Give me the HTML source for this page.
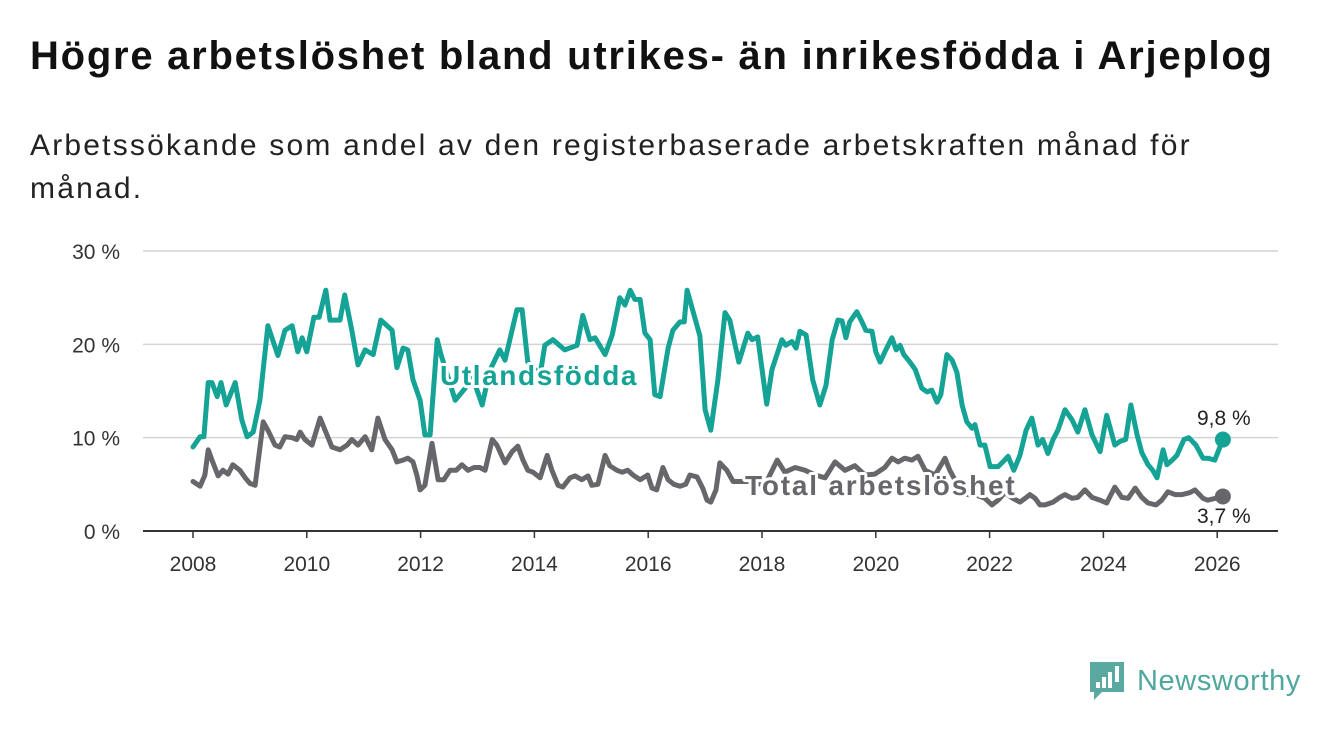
<!DOCTYPE html>
<html><head><meta charset="utf-8"><style>
body{margin:0;width:1340px;height:734px;background:#fff;font-family:"Liberation Sans",sans-serif;overflow:hidden;position:relative}
h1{position:absolute;left:30px;top:34px;margin:0;font-size:40px;letter-spacing:1.75px;font-weight:bold;color:#111;white-space:nowrap}
p.sub{position:absolute;left:30px;top:124px;margin:0;font-size:30px;letter-spacing:2.2px;line-height:43px;color:#222;width:1240px}
svg{position:absolute;left:0;top:0}
</style></head><body>
<h1>Högre arbetslöshet bland utrikes- än inrikesfödda i Arjeplog</h1>
<p class="sub">Arbetssökande som andel av den registerbaserade arbetskraften månad för<br>månad.</p>
<svg id="chart" width="1340" height="734"></svg>
<script>
const yTicks=[0,10,20,30];
const yTickLabels=["0 %","10 %","20 %","30 %"];
const xTicks=[2008,2010,2012,2014,2016,2018,2020,2022,2024,2026];
const utlMonths=[0,1.5,2.3,3.2,4,5.1,5.9,7,8.9,10.3,11.4,12.7,14.1,15.8,17.9,19.4,20.9,22.1,23,24,25.5,26.6,28,28.9,31,32,33.5,34.8,36.3,38,39.6,42,43,44.3,45.3,46.4,47.9,48.9,50,51.5,52.3,55.3,57.4,58.8,61,62.6,64.7,65.8,68.3,69.4,70.6,73.2,74.2,75.9,78.4,81,82.2,83.7,84.8,86.9,88.4,90,91.1,92.2,93.2,94.3,95.3,96.4,97.4,98.5,100.2,101.2,102.7,103.6,104.2,106.9,108,109.2,110.7,112.2,113.2,115.1,117,117.9,119.1,121,122.1,124.2,125,126.3,127.2,128,129.3,130.7,132.2,133.5,134.8,136,136.9,137.7,138.5,140,141.1,141.9,143.2,144,144.9,146.1,147.4,148.3,149.1,149.9,151.2,152.3,153.7,154.8,155.8,156.9,157.7,159,160.1,161.1,162.2,163.2,164.3,164.9,166,167,168.1,169.8,170.8,171.9,173.1,174.4,175.7,176.9,178.2,179.2,180.3,181.4,182.4,183.9,185.4,186.6,188.1,189.6,191.3,192.7,194.4,195.5,196.7,197.8,199.1,200.1,201.4,202.4,203.3,204.6,205.4,206.5,207.5,209,210,211.5,213,214,215.5,217.2];
const utlValues=[9.0,10.1,10.1,15.9,15.9,14.4,15.9,13.5,15.9,11.9,10.1,10.6,14.0,22.0,18.8,21.5,22.0,19.2,20.7,19.2,22.9,22.9,25.8,22.6,22.6,25.3,21.5,17.8,19.4,18.9,22.6,21.5,17.5,19.6,19.4,16.2,14.0,10.3,10.3,20.5,18.9,14.0,15.3,16.7,13.5,17.2,19.4,18.3,23.7,23.7,18.1,16.7,19.9,20.5,19.4,19.9,23.1,20.5,20.7,18.9,21.0,25.0,24.2,25.8,24.8,24.8,21.2,20.5,14.6,14.4,19.6,21.5,22.4,22.4,25.8,20.9,13.0,10.8,16.2,23.4,22.6,18.1,21.2,20.5,20.8,13.6,17.3,20.5,19.9,20.3,19.6,21.4,21.0,16.2,13.5,15.6,20.5,22.6,22.5,20.7,22.4,23.5,22.4,21.5,21.4,19.2,18.1,19.4,20.7,19.4,19.9,18.9,18.1,17.3,15.3,14.9,15.1,13.8,14.6,18.9,18.3,17.0,13.5,11.7,11.0,11.4,9.2,9.2,6.9,6.9,7.4,8.0,6.5,8.1,10.8,12.1,9.2,9.8,8.3,9.8,10.8,13.0,11.9,10.6,13.0,10.3,8.5,12.4,9.2,9.6,9.8,13.5,10.3,8.4,7.1,6.5,5.7,8.7,7.1,7.6,8.1,9.8,10.0,9.2,7.8,7.8,7.6,9.8];
const totMonths=[0,1.5,2.5,3.2,4,5.3,6.3,7.4,8.4,9.9,11,12,13.1,14.8,15.8,17.3,18.3,19.4,20.9,21.9,22.6,23.6,25.1,26.8,28,29.3,31,32.5,33.5,34.8,36.3,37.7,39,40.5,42,43,44.3,45.3,46.4,47.2,47.9,48.9,50.4,51.7,52.9,54.2,55.5,56.7,58,59.3,60.5,61.6,63.1,64.1,65.8,67.3,68.5,69.6,70.6,71.7,73.2,74.7,75.7,77,78,79.5,80.6,82,83.3,84.1,85.4,86.9,87.9,89.4,90.5,91.7,92.8,94.3,95.9,96.8,97.8,99.1,100.2,101.4,102.7,103.9,104.8,106.3,107.5,108.4,109.2,110.3,111.1,112.6,113.9,114.9,117.5,120.6,123.2,124.8,127,129.1,131.2,133.3,135.4,137.5,139.6,141.7,143.8,145.9,147.4,148.7,150.1,151.6,152.9,154.4,156.5,158.6,159.6,161.3,163.4,164.9,167,168.5,169.8,171.2,172.9,174.4,175.5,176.5,177.6,178.6,179.7,181.4,182.8,183.9,185.4,186.6,188.1,189.6,191.3,192.7,194.4,195.9,197.2,198.7,200.1,201.4,203.1,204.3,205.6,207.1,208.6,210.2,211.3,213,214,217.2];
const totValues=[5.3,4.8,6.0,8.7,7.6,5.9,6.5,6.1,7.1,6.5,5.7,5.1,4.9,11.7,10.8,9.2,9.0,10.1,10.0,9.8,10.6,9.8,9.2,12.1,10.6,9.0,8.7,9.2,9.8,9.2,10.1,8.7,12.1,9.8,8.7,7.4,7.6,7.8,7.4,6.0,4.4,4.9,9.4,5.5,5.5,6.5,6.5,7.1,6.5,6.8,6.8,6.5,9.8,9.2,7.3,8.5,9.1,7.6,6.5,6.3,5.7,8.1,6.5,4.9,4.7,5.7,5.9,5.5,5.9,4.9,5.0,8.1,7.0,6.5,6.3,6.5,6.0,5.5,6.0,4.6,4.4,6.8,5.5,5.0,4.8,5.0,6.0,5.8,4.6,3.3,3.1,4.4,7.3,6.5,5.3,5.3,5.3,4.9,7.6,6.3,6.8,6.5,6.0,5.7,7.4,6.5,7.0,6.0,6.1,6.8,7.8,7.4,7.8,7.6,8.0,6.5,6.0,7.8,6.5,4.9,3.9,3.9,3.5,2.8,3.3,4.1,3.5,3.1,3.5,3.9,3.5,2.8,2.8,3.1,3.6,3.9,3.5,3.6,4.4,3.6,3.3,3.0,4.7,3.6,3.5,4.6,3.6,3.0,2.8,3.3,4.2,3.9,3.9,4.1,4.4,3.5,3.3,3.7];

const NS="http://www.w3.org/2000/svg";
const svg=document.getElementById('chart');
const X0=193, PXY=56.9, Y0=531, PXV=9.333;
const xYear=y=>X0+(y-2008)*PXY;
const xMonth=m=>X0+m*PXY/12;
const yVal=v=>Y0-v*PXV;
function mk(tag,attrs,parent){const e=document.createElementNS(NS,tag);for(const k in attrs)e.setAttribute(k,attrs[k]);(parent||svg).appendChild(e);return e;}

yTicks.forEach((t,i)=>{
  const l=mk('line',{x1:143,x2:1278,y1:yVal(t),y2:yVal(t),stroke:t===0?'#333':'#d4d4d4','stroke-width':t===0?2:1.5});
  
  
  const tx=mk('text',{x:120,y:yVal(t)+8,'text-anchor':'end','font-size':21,fill:'#333'});
  tx.textContent=yTickLabels[i];
  
  
});
xTicks.forEach(t=>{
  const l=mk('line',{x1:xYear(t),x2:xYear(t),y1:Y0,y2:Y0+7,stroke:'#333','stroke-width':1.5});
  
  
  const tx=mk('text',{x:xYear(t),y:571,'text-anchor':'middle','font-size':21,fill:'#333'});
  tx.textContent=t;
  
  
});
function line(ms,vs,color,name){
  const d=ms.map((m,i)=>(i?'L':'M')+xMonth(m).toFixed(1)+','+yVal(vs[i]).toFixed(1)).join('');
  const p=mk('path',{d:d,fill:'none',stroke:color,'stroke-width':5,'stroke-linejoin':'round','stroke-linecap':'round'});
  
  
  const c=mk('circle',{cx:xMonth(ms[ms.length-1]),cy:yVal(vs[vs.length-1]),r:8,fill:color});
  
  
}
line(totMonths,totValues,'#67666b','total-line');
line(utlMonths,utlValues,'#14a394','utlandsfodda-line');
function label(x,y,txt,color,name,size,weight,halo,ls){
  const t=mk('text',{x:x,y:y,'font-size':size,'font-weight':weight,'letter-spacing':ls||0,fill:color,stroke:halo?'#fff':'none','stroke-width':halo?6:0,'paint-order':'stroke','stroke-linejoin':'round'});
  t.textContent=txt;
  
  
}
label(440,385,'Utlandsfödda','#14a394','utlandsfodda-label',28,'bold',true,1.6);
label(745,495,'Total arbetslöshet','#67666b','total-label',28,'bold',true,1.8);
label(1197,425,'9,8 %','#222','utl-end-value',21,'normal',true);
label(1197,523,'3,7 %','#222','total-end-value',21,'normal',true);
</script>
<svg width="1340" height="734" style="pointer-events:none">
<path d="M1090 662h34v30h-22l-8 8v-8h-4z" fill="#5aa9a0"/>
<rect x="1096" y="682" width="4" height="6" fill="#fff"/><rect x="1102" y="677" width="4" height="11" fill="#fff"/><rect x="1108" y="672" width="4" height="16" fill="#fff"/><rect x="1115" y="666" width="4" height="16" fill="#fff"/>
<text x="1137" y="690" font-size="29" letter-spacing="0.6" fill="#4fa79d" font-family="Liberation Sans, sans-serif">Newsworthy</text>
</svg>
</body></html>
